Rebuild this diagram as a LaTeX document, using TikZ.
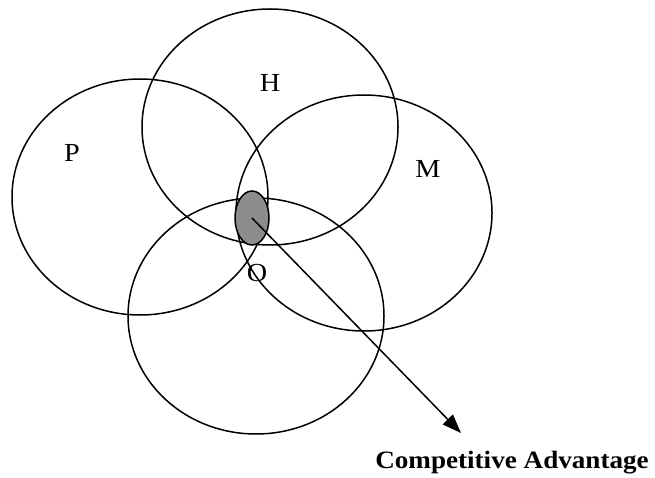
\documentclass[tikz,border=0pt]{standalone}
\usepackage{graphicx}
\usepackage{fontspec}
\setmainfont{Liberation Serif}
\usetikzlibrary{shapes.geometric,arrows.meta}
\newcommand{\widetext}[1]{\scalebox{1.085}[1]{#1}}
\begin{document}
\begin{tikzpicture}[x=1pt,y=-1pt,
        ring/.style={ellipse, draw, line width=1.5pt, minimum width=256pt, minimum height=236pt, inner sep=0pt},
        letter/.style={anchor=base, font=\fontsize{26}{30}\selectfont}]
    \useasboundingbox (0,0) rectangle (655,478);
    \node[ring] (P) at (140,197) {};
    \node[ring] (H) at (270,127) {};
    \node[ring] (M) at (364,213) {};
    \node[ring] (O) at (256,316) {};
    \node[ellipse, draw, line width=1.5pt, fill=black!45, minimum width=34pt, minimum height=54pt, inner sep=0pt] (core) at (252,218) {};
    \node[letter] (labelH) at (270,92) {\widetext{H}};
    \node[letter] (labelP) at (72,162) {\widetext{P}};
    \node[letter] (labelM) at (428,178) {\widetext{M}};
    \node[letter] (labelO) at (257,281) {\widetext{O}};
    \coordinate (tip) at (461,433);
    \draw[line width=1.5pt, -{Triangle[length=19pt,width=14pt]}] (core.center) -- (tip);
    \node[anchor=base, font=\bfseries\fontsize{25}{30}\selectfont] (advantage) at (512,468) {\widetext{Competitive Advantage}};
\end{tikzpicture}
\end{document}
